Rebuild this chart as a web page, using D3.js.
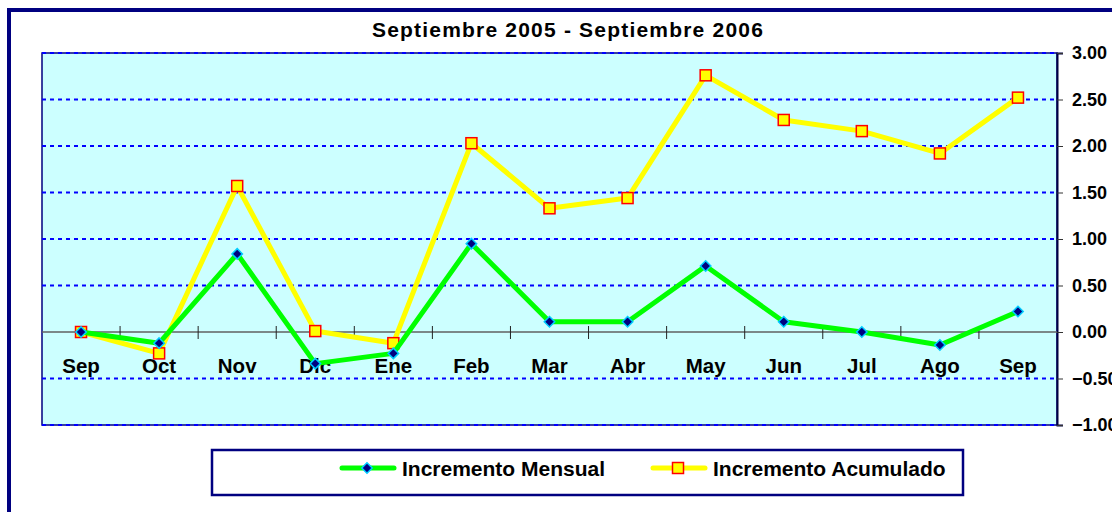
<!DOCTYPE html>
<html>
<head>
<meta charset="utf-8">
<script src="https://cdn.jsdelivr.net/npm/d3@7"></script>
<style>
  html, body { margin: 0; padding: 0; background: #fff; }
  svg { display: block; font-family: Arial, "Liberation Sans", sans-serif; }
</style>
</head>
<body>
<script>
// month labels and the two series
const months = ["Sep", "Oct", "Nov", "Dic", "Ene", "Feb", "Mar", "Abr", "May", "Jun", "Jul", "Ago", "Sep"];
const mensual = [0.00, -0.12, 0.84, -0.34, -0.23, 0.95, 0.11, 0.11, 0.71, 0.11, 0.00, -0.14, 0.22];
const acumulado = [0.00, -0.23, 1.57, 0.01, -0.12, 2.03, 1.33, 1.44, 2.76, 2.28, 2.16, 1.92, 2.52];
const yTicks = [-1, -0.5, 0, 0.5, 1, 1.5, 2, 2.5, 3];
const title = "Septiembre 2005 - Septiembre 2006";
const seriesNames = ["Incremento Mensual", "Incremento Acumulado"];

const width = 1112, height = 512;
const plot = { left: 42, right: 1057, top: 53, bottom: 425 };

const svg = d3.select("body").append("svg")
  .attr("width", width)
  .attr("height", height);

// outer chart frame (runs off the right and bottom edges)
svg.append("rect")
  .attr("x", 9).attr("y", 10)
  .attr("width", 1200).attr("height", 600)
  .attr("fill", "#fff")
  .attr("stroke", "#000080")
  .attr("stroke-width", 4);

const x = d3.scalePoint()
  .domain(d3.range(months.length))
  .range([plot.left, plot.right])
  .padding(0.5);

const y = d3.scaleLinear()
  .domain([-1, 3])
  .range([plot.bottom, plot.top]);

// plot area
svg.append("rect")
  .attr("x", plot.left).attr("y", plot.top)
  .attr("width", plot.right - plot.left)
  .attr("height", plot.bottom - plot.top)
  .attr("fill", "#CCFFFF")
  .attr("stroke", "#000080")
  .attr("stroke-width", 1.5);

// dashed gridlines
svg.append("g")
  .selectAll("line")
  .data(yTicks.filter(d => d !== 0))
  .join("line")
  .attr("x1", plot.left).attr("x2", plot.right)
  .attr("y1", d => y(d)).attr("y2", d => y(d))
  .attr("stroke", "#0000FF")
  .attr("stroke-width", 2)
  .attr("stroke-dasharray", "4,4");

// right value axis
const yAxis = svg.append("g")
  .attr("transform", `translate(${plot.right},0)`)
  .call(d3.axisRight(y).tickValues(yTicks).tickFormat(d3.format(".2f")).tickSize(6).tickPadding(9));
yAxis.select(".domain").attr("stroke", "#000040").attr("stroke-width", 2);
yAxis.selectAll(".tick line").attr("stroke", "#333");
yAxis.selectAll("text")
  .attr("fill", "#000")
  .attr("font-size", 18)
  .attr("font-weight", "bold")
  .attr("font-family", "Arial, 'Liberation Sans', sans-serif");

// zero line with category tick marks crossing it
const step = x.step();
svg.append("line")
  .attr("x1", plot.left).attr("x2", plot.right)
  .attr("y1", y(0)).attr("y2", y(0))
  .attr("stroke", "#606060")
  .attr("stroke-width", 1.5);
svg.append("g")
  .selectAll("line")
  .data(d3.range(1, months.length))
  .join("line")
  .attr("x1", i => x(i) - step / 2).attr("x2", i => x(i) - step / 2)
  .attr("y1", y(0) - 6).attr("y2", y(0) + 7)
  .attr("stroke", "#222")
  .attr("stroke-width", 1);

// category labels
svg.append("g")
  .selectAll("text")
  .data(months)
  .join("text")
  .attr("x", (d, i) => x(i))
  .attr("y", y(0) + 41)
  .attr("text-anchor", "middle")
  .attr("font-size", 20.5)
  .attr("font-weight", "bold")
  .text(d => d);

const line = d3.line().x((d, i) => x(i)).y(d => y(d));

// accumulated series (yellow, squares)
svg.append("path")
  .datum(acumulado)
  .attr("d", line)
  .attr("fill", "none")
  .attr("stroke", "#FFFF00")
  .attr("stroke-width", 5)
  .attr("stroke-linejoin", "round");
svg.append("g")
  .selectAll("rect")
  .data(acumulado)
  .join("rect")
  .attr("x", (d, i) => x(i) - 5.5)
  .attr("y", d => y(d) - 5.5)
  .attr("width", 11).attr("height", 11)
  .attr("fill", "#FFFF00")
  .attr("stroke", "#FF0000")
  .attr("stroke-width", 1.5);

// monthly series (green, diamonds)
svg.append("path")
  .datum(mensual)
  .attr("d", line)
  .attr("fill", "none")
  .attr("stroke", "#00FF00")
  .attr("stroke-width", 5)
  .attr("stroke-linejoin", "round");
const diamond = d3.symbol().type(d3.symbolDiamond2).size(70);
svg.append("g")
  .selectAll("path")
  .data(mensual)
  .join("path")
  .attr("transform", (d, i) => `translate(${x(i)},${y(d)})`)
  .attr("d", diamond)
  .attr("fill", "#000080")
  .attr("stroke", "#00CCFF")
  .attr("stroke-width", 1.5);

// title
svg.append("text")
  .attr("x", 568)
  .attr("y", 37)
  .attr("text-anchor", "middle")
  .attr("font-size", 21)
  .attr("font-weight", "bold")
  .attr("letter-spacing", 1.2)
  .text(title);

// legend
const legend = svg.append("g");
legend.append("rect")
  .attr("x", 212).attr("y", 450)
  .attr("width", 751).attr("height", 45)
  .attr("fill", "#fff")
  .attr("stroke", "#000080")
  .attr("stroke-width", 2.5);

const ly = 468;
const items = [
  { name: seriesNames[0], x0: 342, color: "#00FF00", marker: "diamond" },
  { name: seriesNames[1], x0: 653, color: "#FFFF00", marker: "square" }
];
items.forEach(it => {
  legend.append("line")
    .attr("x1", it.x0).attr("x2", it.x0 + 52)
    .attr("y1", ly).attr("y2", ly)
    .attr("stroke", it.color)
    .attr("stroke-width", 5)
    .attr("stroke-linecap", "round");
  if (it.marker === "diamond") {
    legend.append("path")
      .attr("transform", `translate(${it.x0 + 25},${ly})`)
      .attr("d", diamond)
      .attr("fill", "#000080")
      .attr("stroke", "#00CCFF")
      .attr("stroke-width", 1.5);
  } else {
    legend.append("rect")
      .attr("x", it.x0 + 25 - 5.5).attr("y", ly - 5.5)
      .attr("width", 11).attr("height", 11)
      .attr("fill", "#FFFF00")
      .attr("stroke", "#FF0000")
      .attr("stroke-width", 1.5);
  }
  legend.append("text")
    .attr("x", it.x0 + 60)
    .attr("y", ly + 7.5)
    .attr("font-size", 21)
    .attr("font-weight", "bold")
    .text(it.name);
});
</script>
</body>
</html>
